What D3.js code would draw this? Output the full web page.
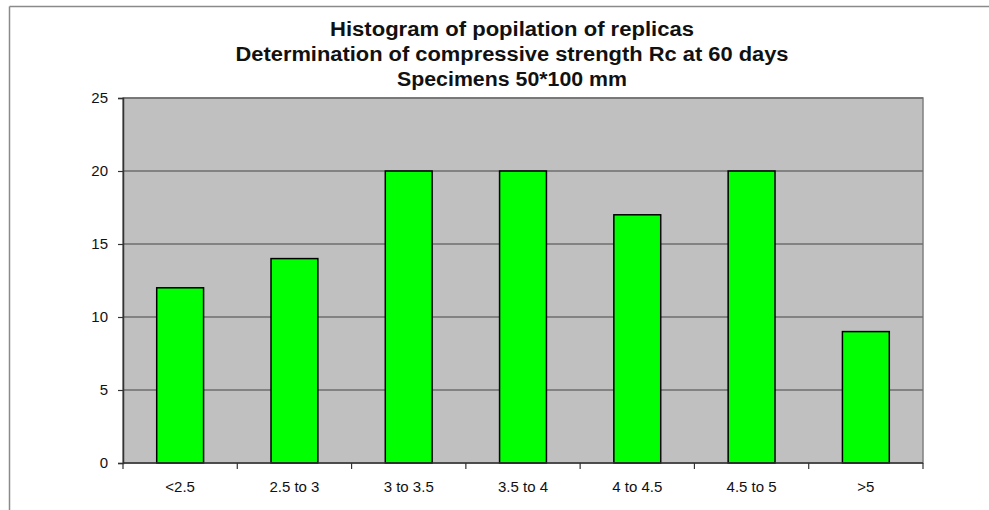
<!doctype html>
<html>
<head>
	<meta charset="utf-8">
	<title>Histogram</title>
	<script src="https://cdnjs.cloudflare.com/ajax/libs/d3/7.8.5/d3.min.js"></script>
	<style>
		body { margin: 0; background: #fff; }
		text { font-family: Arial, "Liberation Sans", sans-serif; }
	</style>
</head>
<body>
	<script>
		// chart data
		var categories = ['<2.5', '2.5 to 3', '3 to 3.5', '3.5 to 4', '4 to 4.5', '4.5 to 5', '>5'];
		var counts = [12, 14, 20, 20, 17, 20, 9];
		var yTicks = [0, 5, 10, 15, 20, 25];
		var titleLines = [
			'Histogram of popilation of replicas',
			'Determination of compressive strength Rc at 60 days',
			'Specimens 50*100 mm'
		];
		var titleWidths = [364, 553, 230];

		var W = 989, H = 510;
		var plotL = 123, plotR = 923, plotT = 98, plotB = 463;

		var svg = d3.select('body').append('svg')
			.attr('width', W)
			.attr('height', H);

		// outer frame (top and left edges only are visible)
		svg.append('line').attr('x1', 9.5).attr('x2', W).attr('y1', 6.5).attr('y2', 6.5)
			.attr('stroke', '#8a8a8a').attr('stroke-width', 1.5);
		svg.append('line').attr('x1', 9.5).attr('x2', 9.5).attr('y1', 6.5).attr('y2', H)
			.attr('stroke', '#8a8a8a').attr('stroke-width', 1.5);

		var x = d3.scaleBand().domain(categories).range([plotL, plotR]).paddingInner(0).paddingOuter(0);
		var y = d3.scaleLinear().domain([0, 25]).range([plotB, plotT]);

		// plot background
		svg.append('rect')
			.attr('x', plotL).attr('y', plotT)
			.attr('width', plotR - plotL).attr('height', plotB - plotT)
			.attr('fill', '#c0c0c0')
			.attr('stroke', '#808080').attr('stroke-width', 1.5);

		// gridlines
		svg.append('g').selectAll('line')
			.data(yTicks.filter(function(d) { return d > 0; }))
			.enter().append('line')
			.attr('x1', plotL).attr('x2', plotR)
			.attr('y1', function(d) { return y(d); })
			.attr('y2', function(d) { return y(d); })
			.attr('stroke', '#6e6e6e').attr('stroke-width', 1.5);

		// bars
		var barW = x.bandwidth() * 0.41;
		svg.append('g').selectAll('rect')
			.data(counts)
			.enter().append('rect')
			.attr('x', function(d, i) { return x(categories[i]) + (x.bandwidth() - barW) / 2; })
			.attr('y', function(d) { return y(d); })
			.attr('width', barW)
			.attr('height', function(d) { return plotB - y(d); })
			.attr('fill', '#00ff00')
			.attr('stroke', '#000').attr('stroke-width', 1.5);

		// y axis
		var yAxis = svg.append('g')
			.attr('transform', 'translate(' + plotL + ',0)')
			.call(d3.axisLeft(y).tickValues(yTicks).tickSize(5).tickPadding(10));
		yAxis.select('.domain').attr('stroke', '#333').attr('stroke-width', 1.5);
		yAxis.selectAll('.tick line').attr('stroke', '#333').attr('stroke-width', 1.2);
		yAxis.selectAll('.tick text').attr('font-size', 15).attr('fill', '#111')
			.attr('font-family', 'Arial, "Liberation Sans", sans-serif');

		// x axis: ticks at category boundaries
		var xAxis = svg.append('g')
			.attr('transform', 'translate(0,' + plotB + ')');
		xAxis.append('line').attr('x1', plotL).attr('x2', plotR).attr('y1', 0).attr('y2', 0)
			.attr('stroke', '#333').attr('stroke-width', 1.5);
		xAxis.selectAll('.xtick')
			.data(d3.range(categories.length + 1))
			.enter().append('line')
			.attr('x1', function(i) { return plotL + i * x.step(); })
			.attr('x2', function(i) { return plotL + i * x.step(); })
			.attr('y1', 0).attr('y2', 6)
			.attr('stroke', '#333').attr('stroke-width', 1.2);
		xAxis.selectAll('.xlabel')
			.data(categories)
			.enter().append('text')
			.attr('x', function(d) { return x(d) + x.bandwidth() / 2; })
			.attr('y', 29)
			.attr('text-anchor', 'middle')
			.attr('font-size', 15)
			.attr('fill', '#111')
			.text(function(d) { return d; });

		// title
		svg.append('g').selectAll('text')
			.data(titleLines)
			.enter().append('text')
			.attr('x', 512)
			.attr('y', function(d, i) { return 36 + i * 25; })
			.attr('text-anchor', 'middle')
			.attr('font-size', 20)
			.attr('font-weight', 'bold')
			.attr('fill', '#111')
			.attr('textLength', function(d, i) { return titleWidths[i]; })
			.attr('lengthAdjust', 'spacingAndGlyphs')
			.text(function(d) { return d; });
	</script>
</body>
</html>
